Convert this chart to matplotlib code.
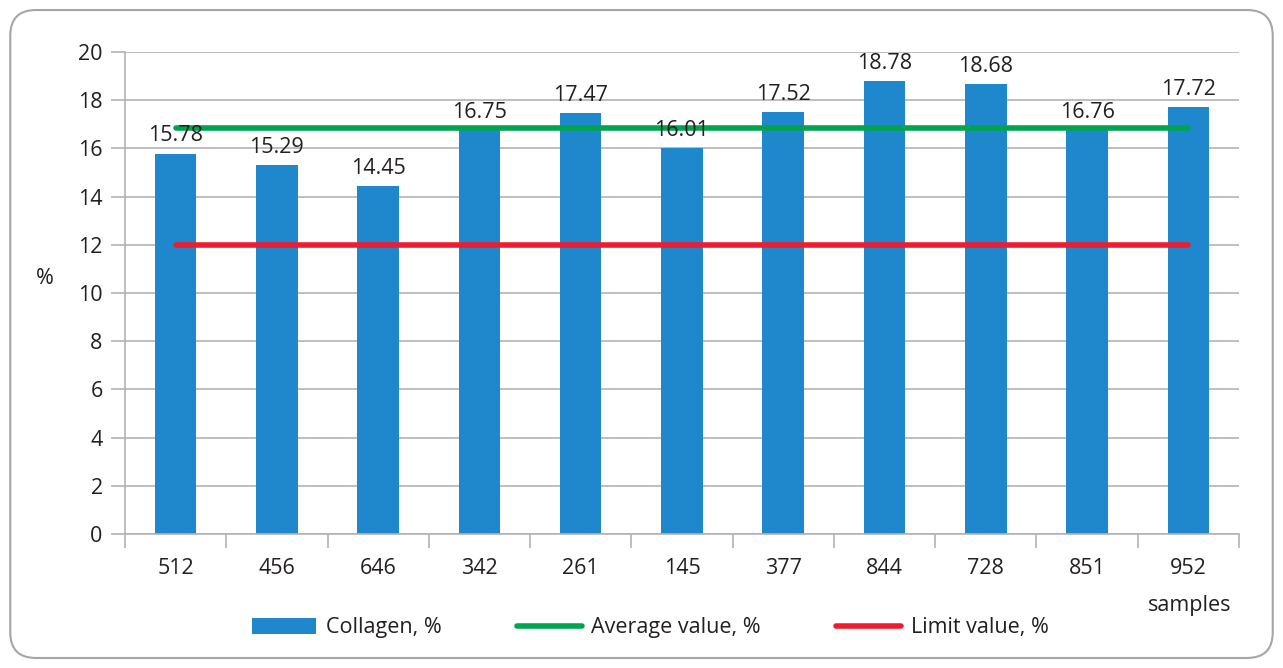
import matplotlib
matplotlib.use("Agg")
import matplotlib.pyplot as plt
from matplotlib.patches import FancyBboxPatch, Patch
from matplotlib.lines import Line2D
import numpy as np

plt.rcParams['font.family'] = ['Open Sans', 'DejaVu Sans']

samples = ["512", "456", "646", "342", "261", "145", "377", "844", "728", "851", "952"]
collagen = [15.78, 15.29, 14.45, 16.75, 17.47, 16.01, 17.52, 18.78, 18.68, 16.76, 17.72]
average_value = 16.84
limit_value = 12

bar_color = "#1f88cc"
green = "#00a44f"
red = "#ed1c2e"
grid_c = "#b3b3b3"
text_c = "#231f20"
FS = 15.5

fig = plt.figure(figsize=(12.83, 6.68), dpi=100)
fig.patches.append(FancyBboxPatch((0.008, 0.015), 0.984, 0.97, boxstyle="round,pad=0,rounding_size=0.02",
                                  transform=fig.transFigure, fill=False, edgecolor="#a6a6a6", linewidth=1.5,
                                  mutation_aspect=1283/668))
ax = fig.add_axes([0.0974, 0.2006, 0.8683, 0.7216])

x = np.arange(len(samples))
ax.bar(x, collagen, width=0.41, color=bar_color, zorder=2)
ax.plot([x[0], x[-1]], [average_value] * 2, color=green, lw=4, solid_capstyle="round", zorder=3)
ax.plot([x[0], x[-1]], [limit_value] * 2, color=red, lw=4, solid_capstyle="round", zorder=3)

for xi, v in zip(x, collagen):
    ax.text(xi, v + 0.3, f"{v:.2f}", ha="center", va="bottom", fontsize=FS, color=text_c, zorder=4)

ax.set_xlim(-0.5, len(samples) - 0.5)
ax.set_ylim(0, 20)
ax.set_yticks(range(0, 21, 2))
ax.set_xticks(x)
ax.set_xticklabels(samples)
ax.set_xticks(np.arange(-0.5, len(samples)), minor=True)
ax.tick_params(axis="x", which="major", length=0, pad=17, labelsize=FS, labelcolor=text_c)
ax.tick_params(axis="x", which="minor", length=10, color=grid_c, width=1.2)
ax.tick_params(axis="y", length=10, color=grid_c, width=1.2, labelsize=FS, labelcolor=text_c, pad=6)
ax.grid(axis="y", color=grid_c, lw=1.2, zorder=0)
for s in ["top", "right"]:
    ax.spines[s].set_visible(False)
for s in ["left", "bottom"]:
    ax.spines[s].set_color(grid_c)
    ax.spines[s].set_linewidth(1.2)

fig.text(45 / 1283, 1 - 278 / 668, "%", ha="center", va="center", fontsize=FS, color=text_c)
fig.text(1190 / 1283, 1 - 606 / 668, "samples", ha="center", va="center", fontsize=FS, color=text_c)

handles = [Patch(facecolor=bar_color, edgecolor="none"),
           Line2D([0], [0], color=green, lw=4, solid_capstyle="round"),
           Line2D([0], [0], color=red, lw=4, solid_capstyle="round")]
labels = ["Collagen, %", "Average value, %", "Limit value, %"]
fig.legend(handles, labels, loc="center", bbox_to_anchor=(650 / 1283, 1 - 628 / 668), ncol=3, frameon=False,
           fontsize=FS, handlelength=3.0, handleheight=0.75, columnspacing=3.5, handletextpad=0.45,
           labelcolor=text_c)

fig.savefig("out.png", dpi=100)
